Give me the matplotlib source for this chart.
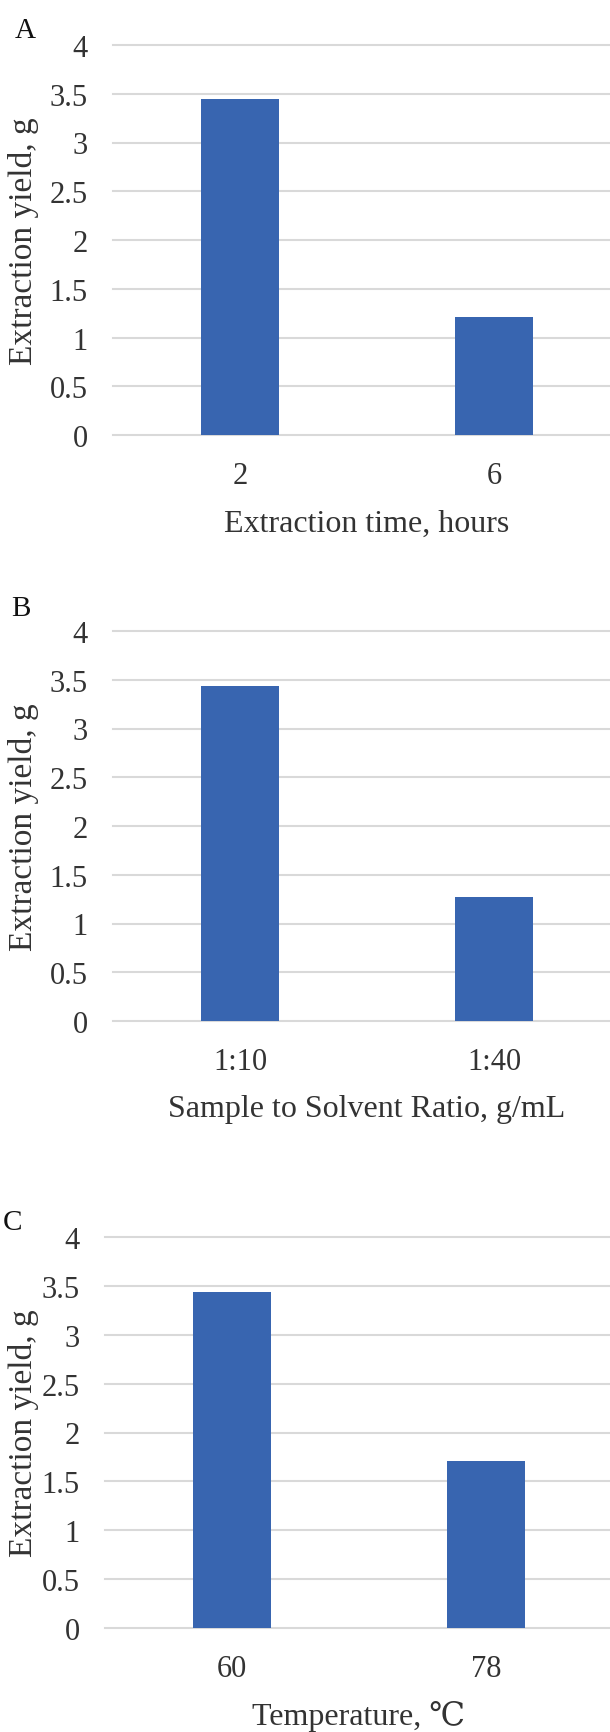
import matplotlib
matplotlib.use("Agg")
import matplotlib.pyplot as plt

plt.rcParams['font.family'] = ['Liberation Serif', 'DejaVu Serif']

# data
time_labels = ['2', '6']
time_yield = [3.45, 1.21]

ratio_labels = ['1:10', '1:40']
ratio_yield = [3.44, 1.27]

temp_labels = ['60', '78']
temp_yield = [3.44, 1.71]

panel_letters = ['A', 'B', 'C']
x_titles = ['Extraction time, hours', 'Sample to Solvent Ratio, g/mL', 'Temperature, \u2103']
y_title = 'Extraction yield, g'
y_ticks = [0, 0.5, 1, 1.5, 2, 2.5, 3, 3.5, 4]

W, H = 610, 1733
fig = plt.figure(figsize=(W / 100, H / 100), dpi=100)

bar_color = '#3865B0'
grid_color = '#D9D9D9'
text_color = '#333333'

# axes boxes in pixels: left, top, right, bottom
boxes = [(113, 46, 621, 436), (113, 632, 621, 1022), (105, 1238, 613, 1629)]
letter_pos = [(25, 31), (21, 609), (13, 1223)]

panels = [(time_labels, time_yield), (ratio_labels, ratio_yield), (temp_labels, temp_yield)]

for i, (labels, vals) in enumerate(panels):
    l, t, r, b = boxes[i]
    ax = fig.add_axes([l / W, 1 - b / H, (r - l) / W, (b - t) / H])
    xs = range(len(labels))
    ax.bar(xs, vals, width=0.31, color=bar_color, zorder=3)
    ax.set_xlim(-0.5, 1.5)
    ax.set_ylim(0, 4)
    ax.set_yticks(y_ticks)
    ax.set_yticklabels(['0', '0.5', '1', '1.5', '2', '2.5', '3', '3.5', '4'])
    ax.set_xticks(list(xs))
    ax.set_xticklabels(labels)
    ax.yaxis.grid(True, color=grid_color, linewidth=1.5)
    ax.set_axisbelow(True)
    for s in ax.spines.values():
        s.set_visible(False)
    ax.tick_params(axis='both', length=0, labelsize=22, colors=text_color)
    ax.tick_params(axis='y', pad=18)
    ax.tick_params(axis='x', pad=18.5)
    for gl in ax.get_ygridlines():
        gl.set_clip_on(False)

    ax.set_xlabel(x_titles[i], fontsize=23, color=text_color, va='center')
    ax.xaxis.set_label_coords(0.5, -88 / (b - t))
    ax.set_ylabel(y_title, fontsize=24, color=text_color, va='center')
    ax.yaxis.set_label_coords((24 - l) / (r - l), 0.5)

    lx, ly = letter_pos[i]
    fig.text(lx / W, 1 - ly / H, panel_letters[i], fontsize=21, ha='center', va='center', color='#111111')

fig.savefig('out.png', dpi=100)
